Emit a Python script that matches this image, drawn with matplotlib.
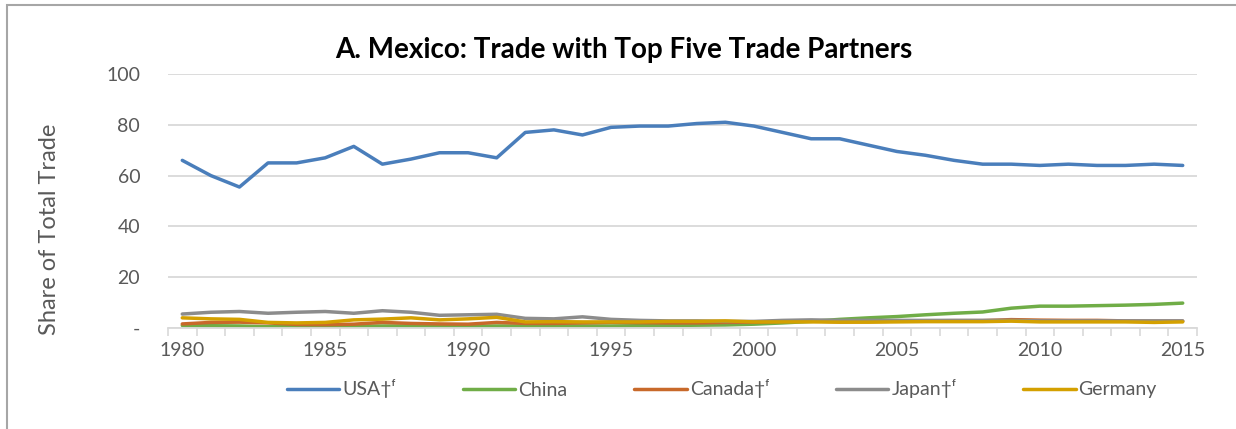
import numpy as np
import matplotlib.pyplot as plt
from matplotlib.patches import Rectangle

plt.rcParams['font.family'] = ['Lato', 'DejaVu Sans']

years = np.arange(1980, 2016)

usa = [66, 60, 55.5, 65, 65, 67, 71.5, 64.5, 66.5, 69, 69, 67, 77, 78, 76, 79,
       79.5, 79.5, 80.5, 81, 79.5, 77, 74.5, 74.5, 72, 69.5, 68, 66, 64.5, 64.5,
       64, 64.5, 64, 64, 64.5, 64]
china = [1, 0.9, 0.8, 0.5, 0.6, 0.6, 0.7, 0.8, 0.8, 0.7, 0.7, 0.8, 0.8, 0.8, 0.8, 0.8,
         0.9, 1.0, 1.1, 1.2, 1.5, 2.0, 2.6, 3.4, 4.0, 4.5, 5.2, 5.8, 6.3, 7.8,
         8.6, 8.6, 8.8, 9.0, 9.3, 9.8]
canada = [1.6, 2.2, 2.3, 2.0, 1.4, 1.3, 1.5, 2.2, 1.8, 1.6, 1.5, 2.2, 1.8, 1.8, 2.0, 2.2,
          2.1, 2.0, 2.0, 2.2, 2.3, 2.6, 2.8, 2.4, 2.5, 2.7, 2.8, 2.9, 2.9, 3.3,
          3.1, 3.0, 3.0, 2.8, 2.7, 2.7]
japan = [5.5, 6.2, 6.5, 5.8, 6.2, 6.5, 5.8, 6.8, 6.2, 5.0, 5.2, 5.4, 3.8, 3.6, 4.4, 3.4,
         3.0, 2.8, 2.8, 2.6, 2.6, 3.0, 3.2, 3.0, 3.0, 3.0, 3.0, 3.0, 3.0, 3.0,
         2.8, 2.8, 2.8, 2.8, 2.8, 2.8]
germany = [4.0, 3.6, 3.4, 2.2, 2.0, 2.2, 3.2, 3.5, 4.0, 3.2, 3.6, 4.2, 2.4, 2.5, 2.4, 2.4,
           2.4, 2.6, 2.6, 2.8, 2.4, 2.4, 2.4, 2.3, 2.3, 2.4, 2.5, 2.5, 2.5, 2.7,
           2.4, 2.4, 2.4, 2.4, 2.2, 2.4]

series = [("USA\u2020\u1da0", usa, "#4a7ebb"),
          ("China", china, "#70ad47"),
          ("Canada\u2020\u1da0", canada, "#c8692a"),
          ("Japan\u2020\u1da0", japan, "#8c8c8c"),
          ("Germany", germany, "#d4a000")]

fig = plt.figure(figsize=(12.36, 4.29), dpi=100)
ax = fig.add_axes([168/1236, 1-328/429, (1197-168)/1236, (328-74)/429])

for name, vals, col in series:
    ax.plot(years, vals, color=col, lw=2.5, label=name, solid_capstyle='round')

ax.set_xlim(1979.5, 2015.5)
ax.set_ylim(0, 100)
ax.set_yticks([0, 20, 40, 60, 80, 100])
ax.set_yticklabels(['-', '20', '40', '60', '80', '100'])
ax.set_xticks(np.arange(1980, 2016, 5))
ax.set_xticks(np.arange(1979.5, 2016, 1), minor=True)
ax.tick_params(axis='x', which='major', length=0, pad=10, labelsize=14, labelcolor='#595959')
ax.tick_params(axis='x', which='minor', length=6, width=1.2, color='#d9d9d9')
ax.tick_params(axis='y', length=0, pad=20, labelsize=14, labelcolor='#595959')
ax.grid(axis='y', color='#d9d9d9', lw=1.3)
ax.set_axisbelow(True)
for s in ['top', 'right', 'left']:
    ax.spines[s].set_visible(False)
ax.spines['bottom'].set_color('#d9d9d9')
ax.spines['bottom'].set_linewidth(1.3)

ax.set_ylabel("Share of Total Trade", fontsize=17, color='#595959')
ax.yaxis.set_label_coords(-0.105, 0.39)
fig.text(0.505, 1-50/429, "A. Mexico: Trade with Top Five Trade Partners",
         ha='center', va='center', fontsize=20, fontweight='bold')

fig.legend(loc='center', bbox_to_anchor=(0.584, 1-389/429), ncol=5, frameon=False,
           fontsize=14, handlelength=2.7, handletextpad=0.15, columnspacing=3.45,
           labelcolor='#595959')

fig.patches.append(Rectangle((7/1236, -0.1), 1.2, 1.1 - 5/429, transform=fig.transFigure,
                             fill=False, edgecolor='#a6a6a6', lw=1.5))

fig.savefig("out.png", dpi=100)
